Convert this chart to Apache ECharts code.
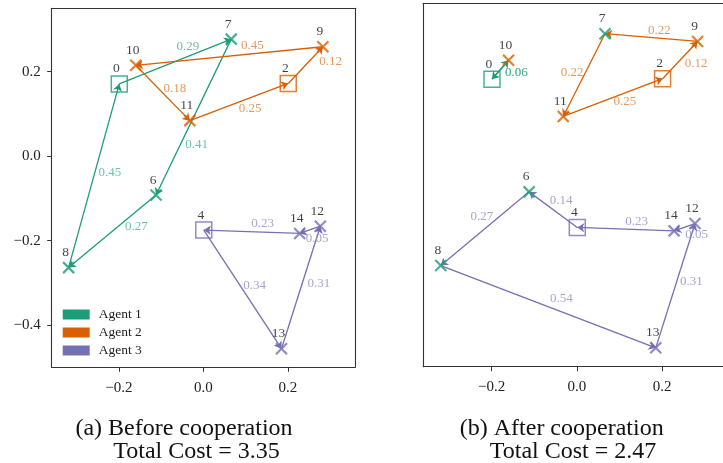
<!DOCTYPE html>
<html><head><meta charset="utf-8">
<script src="https://cdn.jsdelivr.net/npm/echarts@6/dist/echarts.min.js"></script>
<style>html,body{margin:0;padding:0;background:#fff}#c{width:723px;height:463px}</style>
</head><body><div id="c"></div>
<script>
// ---------- data ----------
const nodeIds   = [0, 2, 4, 6, 7, 8, 9, 10, 11, 12, 13, 14];
const nodeX     = [-0.199, 0.201, 0.001, -0.112, 0.066, -0.319, 0.283, -0.160, -0.032, 0.277, 0.185, 0.228];
const nodeY     = [0.171, 0.172, -0.175, -0.092, 0.277, -0.264, 0.259, 0.215, 0.084, -0.166, -0.456, -0.183];
const nodeOwner = [1, 2, 3, 1, 1, 1, 2, 2, 2, 3, 3, 3];
const depotIds  = [0, 2, 4];
const agentNames = ['Agent 1', 'Agent 2', 'Agent 3'];
const routesBefore = [[0, 7, 6, 8, 0], [2, 9, 10, 11, 2], [4, 13, 12, 14, 4]];
const costsBefore  = [[0.29, 0.41, 0.27, 0.45], [0.12, 0.45, 0.18, 0.25], [0.34, 0.31, 0.05, 0.23]];
const routesAfter  = [[0, 10, 0], [2, 9, 7, 11, 2], [4, 6, 8, 13, 12, 14, 4]];
const costsAfter   = [[0.06, 0.06], [0.12, 0.22, 0.22, 0.25], [0.14, 0.27, 0.54, 0.31, 0.05, 0.23]];
const xTicks = [-0.2, 0.0, 0.2];
const yTicks = [-0.4, -0.2, 0.0, 0.2];
const captionsA = ['(a) Before cooperation', 'Total Cost = 3.35'];
const captionsB = ['(b) After cooperation', 'Total Cost = 2.47'];

// ---------- layout / style ----------
const colors = ['#1b9e77', '#d95f02', '#7570b3'];
const labelColors = ['#49b192', '#e17f35', '#918dc2'];
const FONT = '"Liberation Serif", "Times New Roman", serif';
const FRAME = {show: true, onZero: false, lineStyle: {color: '#333', width: 1.1}};
const offsetsBefore = [[[12.5,-15],[3,28],[24,-4.5],[16,-3]], [[25,-4],[23,-10],[12,-4],[11,7]], [[12,-4],[18,-4],[7,9],[11,-8]]];
const offsetsAfter  = [[[16,3],[16,3]], [[16,3],[8,-7.5],[-12,-3],[12,4]], [[8,-9],[-3,-12],[13,-8],[16,-4],[12,7],[11,-8]]];
const panels = [
  {grid: {left: 51.7, top: 8.3, width: 303.3, height: 359}, x: [-0.359, 0.359], y: [-0.5, 0.35], showY: true, rightBorder: true,
   routes: routesBefore, costs: costsBefore, offsets: offsetsBefore},
  {grid: {left: 423.3, top: 3.3, width: 301.4, height: 363.4}, x: [-0.36, 0.3426], y: [-0.5, 0.348], showY: false, rightBorder: false,
   routes: routesAfter, costs: costsAfter, offsets: offsetsAfter}
];

function pos(id) { const i = nodeIds.indexOf(id); return [nodeX[i], nodeY[i]]; }
function fmt(v) { const s = Math.abs(v).toFixed(1); return (v < -1e-9 ? '\u2212' : '') + s; }

const grids = [], xAxes = [], yAxes = [], extraX = [], extraY = [], series = [];
const crossPath = 'path://M0,0L10,10M10,0L0,10';

panels.forEach((P, p) => {
  grids.push(Object.assign({show: false}, P.grid));
  xAxes.push({type: 'value', gridIndex: p, min: P.x[0], max: P.x[1], position: 'bottom',
    axisLine: FRAME, splitLine: {show: false},
    axisTick: {show: true, customValues: xTicks, length: 4.5, lineStyle: {color: '#333', width: 1}},
    axisLabel: {show: true, customValues: xTicks, formatter: fmt, fontFamily: FONT, fontSize: 15, color: '#222', margin: 13}});
  yAxes.push({type: 'value', gridIndex: p, min: P.y[0], max: P.y[1], position: 'left',
    axisLine: FRAME, splitLine: {show: false},
    axisTick: {show: P.showY, customValues: yTicks, length: 4.5, lineStyle: {color: '#333', width: 1}},
    axisLabel: {show: P.showY, customValues: yTicks, formatter: fmt, fontFamily: FONT, fontSize: 15, color: '#222', margin: 11}});
  // frame: top (and right) borders
  extraX.push({type: 'value', gridIndex: p, min: P.x[0], max: P.x[1], position: 'top',
    axisLine: FRAME, axisTick: {show: false}, axisLabel: {show: false}, splitLine: {show: false}});
  if (P.rightBorder) {
    extraY.push({type: 'value', gridIndex: p, min: P.y[0], max: P.y[1], position: 'right',
      axisLine: FRAME, axisTick: {show: false}, axisLabel: {show: false}, splitLine: {show: false}});
  }

  // depots (squares)
  series.push({type: 'scatter', xAxisIndex: p, yAxisIndex: p, silent: true, z: 2,
    symbol: 'rect', symbolSize: 16,
    data: depotIds.map(id => { const o = nodeOwner[nodeIds.indexOf(id)] - 1;
      return {value: pos(id), itemStyle: {color: 'rgba(0,0,0,0)', borderColor: colors[o], borderWidth: 1.5}}; })});

  // routes
  P.routes.forEach((route, a) => {
    const edges = [], labels = [];
    for (let k = 0; k < route.length - 1; k++) {
      const s = pos(route[k]), t = pos(route[k + 1]);
      edges.push({coords: [s, t]});
      labels.push({value: [(s[0] + t[0]) / 2, (s[1] + t[1]) / 2], cost: P.costs[a][k],
        label: {offset: P.offsets[a][k]}});
    }
    series.push({type: 'lines', name: agentNames[a], coordinateSystem: 'cartesian2d', xAxisIndex: p, yAxisIndex: p,
      silent: true, z: 3, symbol: ['none', 'arrow'], symbolSize: 7,
      lineStyle: {color: colors[a], width: 1.3, opacity: 1, curveness: 0}, data: edges});
    series.push({type: 'scatter', xAxisIndex: p, yAxisIndex: p, silent: true, z: 4, symbolSize: 0,
      data: labels,
      label: {show: true, position: 'inside', formatter: d => d.data.cost.toFixed(2),
        color: labelColors[a], fontFamily: FONT, fontSize: 13}});
  });

  // customer crosses
  const cust = nodeIds.filter(id => depotIds.indexOf(id) < 0);
  series.push({type: 'scatter', xAxisIndex: p, yAxisIndex: p, silent: true, z: 5,
    symbol: crossPath, symbolSize: 11,
    data: cust.map(id => { const o = nodeOwner[nodeIds.indexOf(id)] - 1;
      return {value: pos(id), itemStyle: {color: 'none', borderColor: colors[o], borderWidth: 2.2}}; })});

  // node id labels
  series.push({type: 'scatter', xAxisIndex: p, yAxisIndex: p, silent: true, z: 6, symbolSize: 0,
    data: nodeIds.map(id => ({value: pos(id), nid: id})),
    label: {show: true, position: 'inside', offset: [-3, -15], formatter: d => String(d.data.nid),
      color: '#111', fontFamily: FONT, fontSize: 13.5}});
});

const chart = echarts.init(document.getElementById('c'), null, {renderer: 'canvas'});
chart.setOption({
  animation: false,
  backgroundColor: '#fff',
  grid: grids, xAxis: xAxes.concat(extraX), yAxis: yAxes.concat(extraY), series: series,
  legend: {left: 62.7, top: 307.5, padding: 0, orient: 'vertical', icon: 'rect', itemWidth: 27, itemHeight: 10, itemGap: 4,
    selectedMode: false,
    textStyle: {fontFamily: FONT, fontSize: 13.5, color: '#222', padding: [0, 0, 0, 4]},
    data: agentNames.map((n, i) => ({name: n, itemStyle: {color: colors[i], borderWidth: 0}}))},
  graphic: [
    {type: 'text', x: 184, y: 429, style: {text: captionsA[0], font: '24px ' + FONT, fill: '#111', textAlign: 'center', textVerticalAlign: 'middle'}},
    {type: 'text', x: 196.5, y: 452, style: {text: captionsA[1], font: '24px ' + FONT, fill: '#111', textAlign: 'center', textVerticalAlign: 'middle'}},
    {type: 'text', x: 561.7, y: 429, style: {text: captionsB[0], font: '24px ' + FONT, fill: '#111', textAlign: 'center', textVerticalAlign: 'middle'}},
    {type: 'text', x: 573, y: 452, style: {text: captionsB[1], font: '24px ' + FONT, fill: '#111', textAlign: 'center', textVerticalAlign: 'middle'}}
  ]
});
</script></body></html>
